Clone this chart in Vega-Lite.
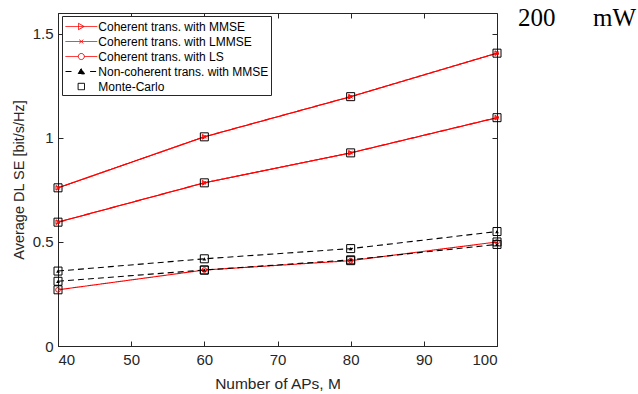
{
 "$schema": "https://vega.github.io/schema/vega-lite/v6.json",
 "width": 439, "height": 333,
 "autosize": "none",
 "padding": {"left": 58, "top": 13, "right": 141, "bottom": 48},
 "background": "white",
 "title": {"text": "200\u00a0\u00a0\u00a0\u00a0\u00a0\u00a0mW", "orient": "top", "anchor": "end", "align": "left", "baseline": "alphabetic", "font": "Liberation Serif", "fontSize": 25, "fontWeight": "normal", "color": "black", "offset": 0, "dx": 15, "dy": 38},
 "datasets": {
  "curves": [
   {"curve": "R1a", "series": "Coherent trans. with MMSE", "M": 40, "SE": 0.76},
   {"curve": "R1a", "series": "Coherent trans. with MMSE", "M": 60, "SE": 1.005},
   {"curve": "R1a", "series": "Coherent trans. with MMSE", "M": 80, "SE": 1.198},
   {"curve": "R1a", "series": "Coherent trans. with MMSE", "M": 100, "SE": 1.407},
   {"curve": "R1b", "series": "Coherent trans. with LMMSE", "M": 40, "SE": 0.76},
   {"curve": "R1b", "series": "Coherent trans. with LMMSE", "M": 60, "SE": 1.005},
   {"curve": "R1b", "series": "Coherent trans. with LMMSE", "M": 80, "SE": 1.198},
   {"curve": "R1b", "series": "Coherent trans. with LMMSE", "M": 100, "SE": 1.407},
   {"curve": "R2a", "series": "Coherent trans. with MMSE", "M": 40, "SE": 0.595},
   {"curve": "R2a", "series": "Coherent trans. with MMSE", "M": 60, "SE": 0.784},
   {"curve": "R2a", "series": "Coherent trans. with MMSE", "M": 80, "SE": 0.928},
   {"curve": "R2a", "series": "Coherent trans. with MMSE", "M": 100, "SE": 1.097},
   {"curve": "R2b", "series": "Coherent trans. with LMMSE", "M": 40, "SE": 0.595},
   {"curve": "R2b", "series": "Coherent trans. with LMMSE", "M": 60, "SE": 0.784},
   {"curve": "R2b", "series": "Coherent trans. with LMMSE", "M": 80, "SE": 0.928},
   {"curve": "R2b", "series": "Coherent trans. with LMMSE", "M": 100, "SE": 1.097},
   {"curve": "R3", "series": "Coherent trans. with LS", "M": 40, "SE": 0.27},
   {"curve": "R3", "series": "Coherent trans. with LS", "M": 60, "SE": 0.365},
   {"curve": "R3", "series": "Coherent trans. with LS", "M": 80, "SE": 0.41},
   {"curve": "R3", "series": "Coherent trans. with LS", "M": 100, "SE": 0.5},
   {"curve": "N1", "series": "Non-coherent trans. with MMSE", "M": 40, "SE": 0.36},
   {"curve": "N1", "series": "Non-coherent trans. with MMSE", "M": 60, "SE": 0.419},
   {"curve": "N1", "series": "Non-coherent trans. with MMSE", "M": 80, "SE": 0.468},
   {"curve": "N1", "series": "Non-coherent trans. with MMSE", "M": 100, "SE": 0.55},
   {"curve": "N2", "series": "Non-coherent trans. with MMSE", "M": 40, "SE": 0.311},
   {"curve": "N2", "series": "Non-coherent trans. with MMSE", "M": 60, "SE": 0.365},
   {"curve": "N2", "series": "Non-coherent trans. with MMSE", "M": 80, "SE": 0.414},
   {"curve": "N2", "series": "Non-coherent trans. with MMSE", "M": 100, "SE": 0.488}
  ],
  "mc": [
   {"series": "Monte-Carlo", "M": 40, "SE": 0.76}, {"series": "Monte-Carlo", "M": 60, "SE": 1.005}, {"series": "Monte-Carlo", "M": 80, "SE": 1.198}, {"series": "Monte-Carlo", "M": 100, "SE": 1.407},
   {"series": "Monte-Carlo", "M": 40, "SE": 0.595}, {"series": "Monte-Carlo", "M": 60, "SE": 0.784}, {"series": "Monte-Carlo", "M": 80, "SE": 0.928}, {"series": "Monte-Carlo", "M": 100, "SE": 1.097},
   {"series": "Monte-Carlo", "M": 40, "SE": 0.27}, {"series": "Monte-Carlo", "M": 60, "SE": 0.365}, {"series": "Monte-Carlo", "M": 80, "SE": 0.41}, {"series": "Monte-Carlo", "M": 100, "SE": 0.5},
   {"series": "Monte-Carlo", "M": 40, "SE": 0.36}, {"series": "Monte-Carlo", "M": 60, "SE": 0.419}, {"series": "Monte-Carlo", "M": 80, "SE": 0.468}, {"series": "Monte-Carlo", "M": 100, "SE": 0.55},
   {"series": "Monte-Carlo", "M": 40, "SE": 0.311}, {"series": "Monte-Carlo", "M": 60, "SE": 0.365}, {"series": "Monte-Carlo", "M": 80, "SE": 0.414}, {"series": "Monte-Carlo", "M": 100, "SE": 0.488}
  ]
 },
 "layer": [
  {
   "data": {"name": "curves"},
   "mark": {"type": "line", "strokeWidth": 1.1},
   "encoding": {
    "x": {"field": "M", "type": "quantitative", "scale": {"domain": [40, 100]}, "axis": {"orient": "bottom", "values": [40, 50, 60, 70, 80, 90, 100], "format": "d", "title": "Number of APs, M", "labelPadding": 11, "titlePadding": 9, "titleFontSize": 15.5}},
    "y": {"field": "SE", "type": "quantitative", "scale": {"domain": [0, 1.5]}, "axis": {"orient": "left", "values": [0, 0.5, 1, 1.5], "format": "~g", "title": "Average DL SE [bit/s/Hz]", "labelPadding": 10, "titlePadding": 6, "titleFontSize": 14.5}},
    "detail": {"field": "curve"},
    "color": {"field": "series", "type": "nominal",
     "scale": {"domain": ["Coherent trans. with MMSE", "Coherent trans. with LMMSE", "Coherent trans. with LS", "Non-coherent trans. with MMSE", "Monte-Carlo"], "range": ["#ff0000", "#ff0000", "#ff0000", "#000000", "#000000"]},
     "legend": {"title": null, "orient": "none", "legendX": 4, "legendY": 3, "symbolSize": 256, "labelOffset": 17.3,
      "encode": {"symbols": {"update": {
       "shape": {"signal": "datum.value==='Coherent trans. with MMSE' ? 'M-0.875,0H3.09M0.75,-0.4L1.45,0L0.75,0.4Z' : datum.value==='Coherent trans. with LMMSE' ? 'M-0.875,0H3.09M0.85,-0.22L1.35,0.22M0.85,0.22L1.35,-0.22' : datum.value==='Coherent trans. with LS' ? 'M-0.875,0H0.72M1.48,0H3.09M0.72,0A0.38,0.38,0,1,0,1.48,0A0.38,0.38,0,1,0,0.72,0' : datum.value==='Non-coherent trans. with MMSE' ? 'M-0.875,0H0M2.2,0H3.09M0.7,0.3L1.1,-0.4L1.5,0.3Z' : 'M0.7,-0.4H1.5V0.4H0.7Z'"},
       "stroke": {"signal": "indexof(['Coherent trans. with MMSE','Coherent trans. with LMMSE','Coherent trans. with LS'], datum.value) >= 0 ? '#ff0000' : '#000000'"},
       "fill": {"signal": "datum.value==='Non-coherent trans. with MMSE' ? '#000000' : 'transparent'"},
       "strokeWidth": {"value": 1},
       "strokeDash": {"value": []},
       "opacity": {"value": 1}
      }}}}},
    "strokeDash": {"field": "series", "type": "nominal", "scale": {"domain": ["Coherent trans. with MMSE", "Coherent trans. with LMMSE", "Coherent trans. with LS", "Non-coherent trans. with MMSE", "Monte-Carlo"], "range": [[1, 0], [1, 0], [1, 0], [6, 4], [1, 0]]}, "legend": null}
   }
  },
  {
   "data": {"name": "curves"},
   "transform": [{"filter": "datum.series === 'Coherent trans. with MMSE'"}],
   "mark": {"type": "point", "shape": "triangle-right", "filled": false, "color": "#ff0000", "strokeWidth": 1, "opacity": 1, "size": 22},
   "encoding": {
    "x": {"field": "M", "type": "quantitative", "axis": null},
    "y": {"field": "SE", "type": "quantitative", "axis": null}
   }
  },
  {
   "data": {"name": "curves"},
   "transform": [{"filter": "datum.series === 'Coherent trans. with LMMSE'"}],
   "mark": {"type": "point", "shape": "M-1,-1L1,1M-1,1L1,-1", "filled": false, "color": "#ff0000", "strokeWidth": 1, "opacity": 1, "size": 12},
   "encoding": {
    "x": {"field": "M", "type": "quantitative", "axis": null},
    "y": {"field": "SE", "type": "quantitative", "axis": null}
   }
  },
  {
   "data": {"name": "curves"},
   "transform": [{"filter": "datum.series === 'Coherent trans. with LS'"}],
   "mark": {"type": "point", "shape": "circle", "filled": false, "color": "#ff0000", "strokeWidth": 1, "opacity": 1, "size": 22},
   "encoding": {
    "x": {"field": "M", "type": "quantitative", "axis": null},
    "y": {"field": "SE", "type": "quantitative", "axis": null}
   }
  },
  {
   "data": {"name": "curves"},
   "transform": [{"filter": "datum.series === 'Non-coherent trans. with MMSE'"}],
   "mark": {"type": "point", "shape": "triangle-up", "filled": true, "color": "#000000", "opacity": 1, "size": 14},
   "encoding": {
    "x": {"field": "M", "type": "quantitative", "axis": null},
    "y": {"field": "SE", "type": "quantitative", "axis": null}
   }
  },
  {
   "data": {"name": "mc"},
   "mark": {"type": "point", "shape": "square", "filled": false, "color": "#000000", "strokeWidth": 1, "opacity": 1, "size": 64},
   "encoding": {
    "x": {"field": "M", "type": "quantitative", "axis": {"orient": "top", "values": [40, 50, 60, 70, 80, 90, 100], "labels": false, "title": null, "domain": false}},
    "y": {"field": "SE", "type": "quantitative", "axis": {"orient": "right", "values": [0, 0.5, 1, 1.5], "labels": false, "title": null, "domain": false}}
   }
  }
 ],
 "resolve": {"axis": {"x": "independent", "y": "independent"}},
 "config": {
  "view": {"stroke": "#262626", "strokeWidth": 1},
  "axis": {"labelFont": "Liberation Sans", "titleFont": "Liberation Sans", "labelFontSize": 15, "titleFontSize": 15, "titleFontWeight": "normal", "labelColor": "#262626", "titleColor": "#262626", "domainColor": "#262626", "tickColor": "#262626", "grid": false, "tickSize": -5},
  "legend": {"labelFont": "Liberation Sans", "labelFontSize": 12, "labelColor": "#000000", "labelLimit": 300, "strokeColor": "#262626", "fillColor": "white", "padding": 2, "rowPadding": 0, "cornerRadius": 0}
 }
}
